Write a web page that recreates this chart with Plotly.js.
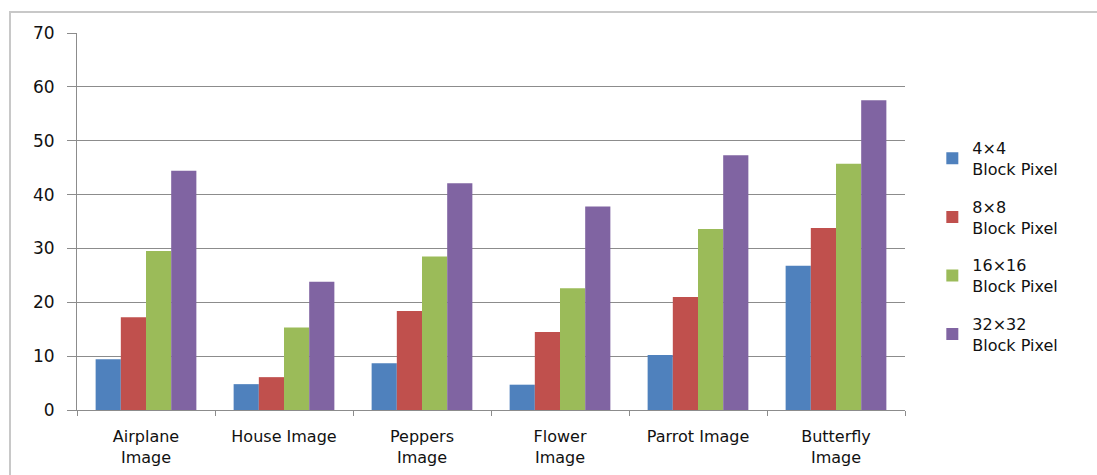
<!DOCTYPE html>
<html>
<head>
<meta charset="utf-8">
<script src="https://cdn.plot.ly/plotly-3.0.1.min.js"></script>
<style>html,body{margin:0;padding:0;background:#fff;}#chart{width:1097px;height:475px;}</style>
</head>
<body>
<div id="chart"></div>
<script>
var categories = ["Airplane<br>Image", "House Image", "Peppers<br>Image", "Flower<br>Image", "Parrot Image", "Butterfly<br>Image"];
var seriesNames = ["4×4<br>Block Pixel", "8×8<br>Block Pixel", "16×16<br>Block Pixel", "32×32<br>Block Pixel"];
var block4 = [9.4, 4.8, 8.7, 4.7, 10.2, 26.8];
var block8 = [17.2, 6.1, 18.4, 14.5, 21.0, 33.8];
var block16 = [29.5, 15.3, 28.5, 22.6, 33.6, 45.7];
var block32 = [44.4, 23.8, 42.1, 37.8, 47.3, 57.5];
var yTicks = [0, 10, 20, 30, 40, 50, 60, 70];

var colors = ["#4F81BD", "#C0504D", "#9BBB59", "#8064A2"];
var values = [block4, block8, block16, block32];
var font = "DejaVu Sans, Open Sans, sans-serif";

var traces = values.map(function (v, i) {
  return {
    type: "bar",
    x: categories,
    y: v,
    name: seriesNames[i],
    legendgroup: "g" + i,
    marker: {color: colors[i], line: {width: 0}},
    hoverinfo: "y"
  };
});

var layout = {
  width: 1097,
  height: 475,
  margin: {l: 77, r: 192, t: 33, b: 65},
  paper_bgcolor: "#ffffff",
  plot_bgcolor: "#ffffff",
  barmode: "group",
  bargap: 0.27,
  bargroupgap: 0,
  font: {family: font, size: 16, color: "#111111"},
  showlegend: true,
  legend: {
    x: 1.033, y: 0.74, xanchor: "left", yanchor: "top",
    font: {family: font, size: 16, color: "#111111"},
    tracegroupgap: 14,
    itemwidth: 30,
    bgcolor: "rgba(0,0,0,0)"
  },
  xaxis: {
    type: "category",
    showgrid: false,
    showline: true,
    linecolor: "#8c8c8c",
    linewidth: 1,
    ticks: "outside",
    tickson: "boundaries",
    ticklen: 5,
    tickcolor: "#8c8c8c",
    ticklabelstandoff: 12,
    tickfont: {family: font, size: 16, color: "#111111"},
    fixedrange: true
  },
  yaxis: {
    range: [0, 70],
    tickvals: yTicks,
    ticktext: yTicks.map(String),
    showgrid: true,
    gridcolor: "#8c8c8c",
    gridwidth: 1,
    showline: true,
    linecolor: "#8c8c8c",
    linewidth: 1,
    ticks: "outside",
    ticklen: 9,
    tickcolor: "#8c8c8c",
    ticklabelstandoff: 9,
    zeroline: false,
    tickfont: {family: font, size: 17, color: "#111111"},
    fixedrange: true
  },
  shapes: [{
    type: "rect", xref: "paper", yref: "paper",
    x0: -0.0809, x1: 1.25, y0: -0.2, y1: 1.0557,
    line: {color: "#c8c8c8", width: 2},
    fillcolor: "rgba(0,0,0,0)",
    layer: "below"
  }]
};

Plotly.newPlot("chart", traces, layout, {displayModeBar: false, staticPlot: true});
</script>
</body>
</html>
